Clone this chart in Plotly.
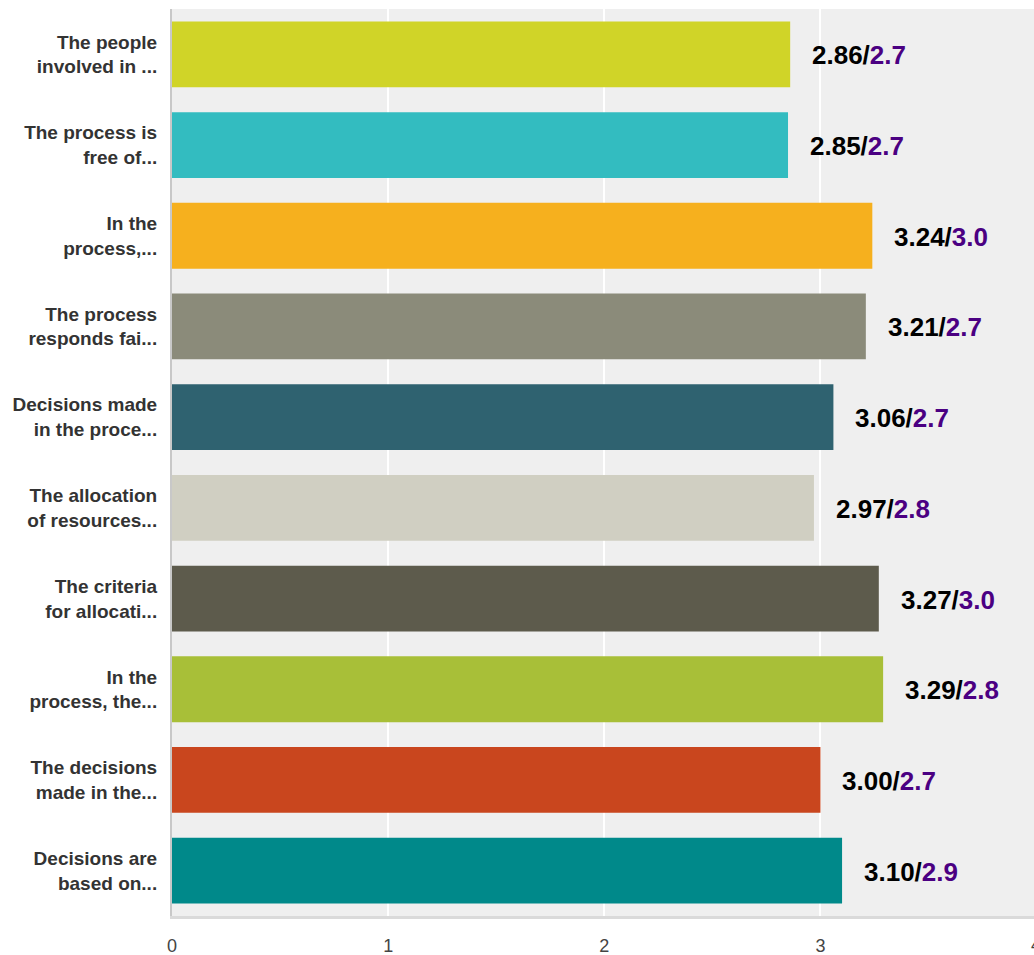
import plotly.graph_objects as go

categories = [
    "The people<br>involved in ...",
    "The process is<br>free of...",
    "In the<br>process,...",
    "The process<br>responds fai...",
    "Decisions made<br>in the proce...",
    "The allocation<br>of resources...",
    "The criteria<br>for allocati...",
    "In the<br>process, the...",
    "The decisions<br>made in the...",
    "Decisions are<br>based on...",
]
scores = [2.86, 2.85, 3.24, 3.21, 3.06, 2.97, 3.27, 3.29, 3.00, 3.10]
benchmarks = [2.7, 2.7, 3.0, 2.7, 2.7, 2.8, 3.0, 2.8, 2.7, 2.9]
colors = ["#d0d428", "#33bcc0", "#f6b01e", "#8b8b7a", "#2f6270",
          "#d0cfc2", "#5d5b4c", "#a8bf38", "#c9461e", "#00898a"]
x_ticks = [0, 1, 2, 3]

tick_font = dict(family="Liberation Sans Narrow, Arial Narrow, sans-serif", size=18, color="#444444")

fig = go.Figure()
fig.add_trace(go.Bar(
    y=categories, x=scores, orientation="h",
    marker=dict(color=colors, line=dict(width=0)),
    hoverinfo="skip", showlegend=False,
))

for cat, s, b in zip(categories, scores, benchmarks):
    fig.add_annotation(
        x=s, y=cat, xref="x", yref="y",
        text=f"<b>{s:.2f}/<span style='color:#4b0082'>{b:.1f}</span></b>",
        showarrow=False, xanchor="left", yanchor="middle", xshift=20, yshift=-1,
        font=dict(family="Liberation Sans, Arial, sans-serif", size=26, color="#000000"),
    )

fig.add_annotation(
    x=3.995 / 3.988, y=-0.032, xref="paper", yref="paper",
    text="4", showarrow=False, xanchor="center", yanchor="middle",
    font=tick_font,
)

fig.update_layout(
    width=1034, height=955,
    margin=dict(l=172, r=0, t=9, b=39, autoexpand=False),
    paper_bgcolor="#ffffff", plot_bgcolor="#efefef",
    bargap=0.274,
    xaxis=dict(
        range=[0, 3.988], tickvals=x_ticks, ticktext=[str(v) for v in x_ticks],
        showgrid=True, gridcolor="#ffffff", gridwidth=2, zeroline=False,
        showline=True, linecolor="#dadada", linewidth=3,
        ticks="", ticklabelstandoff=11, automargin=False,
        tickfont=tick_font,
        fixedrange=True,
    ),
    yaxis=dict(
        autorange="reversed", showgrid=False, zeroline=False,
        showline=True, linecolor="#c8c8c8", linewidth=2,
        ticks="", ticklabelstandoff=9, automargin=False,
        tickfont=dict(family="Liberation Sans, Arial, sans-serif", size=19, color="#333333",
                      weight="bold"),
        fixedrange=True,
    ),
)

fig.write_html("out.html")
